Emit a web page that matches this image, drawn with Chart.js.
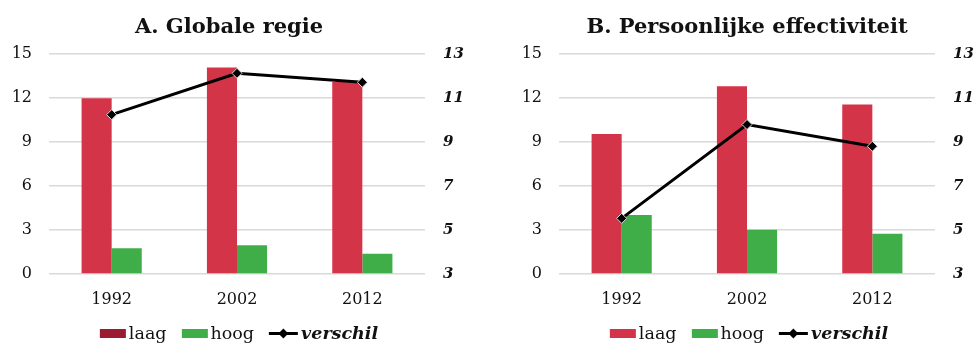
<!DOCTYPE html>
<html>
<head>
<meta charset="utf-8">
<script src="https://cdn.jsdelivr.net/npm/chart.js@4/dist/chart.umd.min.js"></script>
<style>
  html, body { margin: 0; padding: 0; background: #fff; }
  body { width: 978px; height: 343px; position: relative; overflow: hidden; font-family: "DejaVu Serif", serif; }
  .panel { position: absolute; top: 0; width: 489px; height: 343px; }
  .legend { position: absolute; top: 323px; display: flex; align-items: center; white-space: nowrap;
            font-size: 17.5px; color: #111; transform: translateX(-50%); }
  .item { display: flex; align-items: center; margin-right: 15px; }
  .item:last-child { margin-right: 0; }
  .box { width: 26px; height: 9px; margin-right: 3px; }
  .lineSym { position: relative; width: 29px; height: 10px; margin-right: 3px; }
  .lineSym::before { content: ""; position: absolute; left: 0; right: 0; top: 4px; height: 3px; background: #000; }
  .lineSym::after { content: ""; position: absolute; left: 11px; top: 1.5px; width: 7px; height: 7px; background: #000; transform: rotate(45deg); }
  .em { font-weight: bold; font-style: italic; }
</style>
</head>
<body>
<div class="panel" id="pA" style="left:0"><canvas id="cA"></canvas><div class="legend" id="lA"></div></div>
<div class="panel" id="pB" style="left:489px"><canvas id="cB"></canvas><div class="legend" id="lB"></div></div>
<script>
// Survey years
const years = ['1992', '2002', '2012'];

// A. Globale regie
const laagA = [12.0, 14.1, 13.1];
const hoogA = [1.75, 1.97, 1.38];
const verschilA = [10.25, 12.13, 11.72];

// B. Persoonlijke effectiviteit
const laagB = [9.55, 12.82, 11.56];
const hoogB = [4.02, 3.02, 2.75];
const verschilB = [5.53, 9.80, 8.81];

// Axis ranges: left for the groups, right (bold italic) for the difference
const leftAxis = { min: 0, max: 15, step: 3 };
const rightAxis = { min: 3, max: 13, step: 2 };

const FONT = '"DejaVu Serif", serif';
const RED = '#D43447';
const GREEN = '#3FAE49';

// Nudges the title block sideways after layout
const titleShift = {
  id: 'titleShift',
  afterLayout(chart, args, opts) {
    const tb = chart.titleBlock;
    if (tb && opts.dx) { tb.left += opts.dx; tb.right += opts.dx; }
  }
};

function makePanel(canvasId, legendId, title, laag, hoog, verschil, geo) {
  const ctx = document.getElementById(canvasId);
  const chart = new Chart(ctx, {
    data: {
      labels: years,
      datasets: [
        { type: 'line', label: 'verschil', data: verschil, yAxisID: 'y2', order: 0,
          borderColor: '#000', borderWidth: 3, backgroundColor: '#000',
          pointStyle: 'rectRot', pointRadius: 5, pointBorderColor: '#d8d8d8', pointBorderWidth: 1,
          pointBackgroundColor: '#000', tension: 0 },
        { type: 'bar', label: 'laag', data: laag, yAxisID: 'y', order: 1,
          backgroundColor: RED, categoryPercentage: 0.48, barPercentage: 1.0 },
        { type: 'bar', label: 'hoog', data: hoog, yAxisID: 'y', order: 1,
          backgroundColor: GREEN, categoryPercentage: 0.48, barPercentage: 1.0 }
      ]
    },
    plugins: [titleShift],
    options: {
      responsive: true, maintainAspectRatio: false, animation: false,
      layout: { padding: 0 },
      plugins: {
        legend: { display: false },
        tooltip: { enabled: false },
        titleShift: { dx: geo.titleDx || 0 },
        title: { display: true, text: title, color: '#111', fullSize: false,
                 font: { family: FONT, size: 21, weight: 'bold' },
                 padding: { top: 15, bottom: 14 } }
      },
      scales: {
        x: {
          grid: { display: false, drawTicks: false },
          border: { display: false },
          ticks: { color: '#111', font: { family: FONT, size: 16 }, padding: 16 },
          afterFit: s => { s.height = 69; }
        },
        y: {
          position: 'left', min: leftAxis.min, max: leftAxis.max,
          ticks: { stepSize: leftAxis.step, color: '#111', font: { family: FONT, size: 16 }, padding: 17 },
          grid: { color: '#d9d9d9', lineWidth: 1.5, drawTicks: false },
          border: { display: false },
          afterFit: s => { s.width = geo.leftW; }
        },
        y2: {
          position: 'right', min: rightAxis.min, max: rightAxis.max,
          ticks: { stepSize: rightAxis.step, color: '#111',
                   font: { family: FONT, size: 15, weight: 'bold', style: 'italic' }, padding: 18 },
          grid: { display: false, drawTicks: false },
          border: { display: false },
          afterFit: s => { s.width = geo.rightW; }
        }
      }
    }
  });

  // Legend built from the chart's own datasets
  const lg = document.getElementById(legendId);
  const order = ['laag', 'hoog', 'verschil'];
  order.forEach(name => {
    const ds = chart.data.datasets.find(d => d.label === name);
    const item = document.createElement('div');
    item.className = 'item';
    if (ds.type === 'bar') {
      const b = document.createElement('span');
      b.className = 'box';
      b.style.background = (name === 'laag' && geo.laagSwatch) ? geo.laagSwatch : ds.backgroundColor;
      item.appendChild(b);
      const t = document.createElement('span');
      t.textContent = ds.label;
      item.appendChild(t);
    } else {
      const l = document.createElement('span');
      l.className = 'lineSym';
      item.appendChild(l);
      const t = document.createElement('span');
      t.className = 'em';
      t.textContent = ds.label;
      item.appendChild(t);
    }
    lg.appendChild(item);
  });
  const ca = chart.chartArea;
  lg.style.left = ((ca.left + ca.right) / 2 + 2) + 'px';
  return chart;
}

makePanel('cA', 'lA', 'A. Globale regie', laagA, hoogA, verschilA,
  { leftW: 49, rightW: 64, laagSwatch: '#9B1B30', titleDx: -8 });
makePanel('cB', 'lB', 'B. Persoonlijke effectiviteit', laagB, hoogB, verschilB,
  { leftW: 70, rightW: 43 });
</script>
</body>
</html>
